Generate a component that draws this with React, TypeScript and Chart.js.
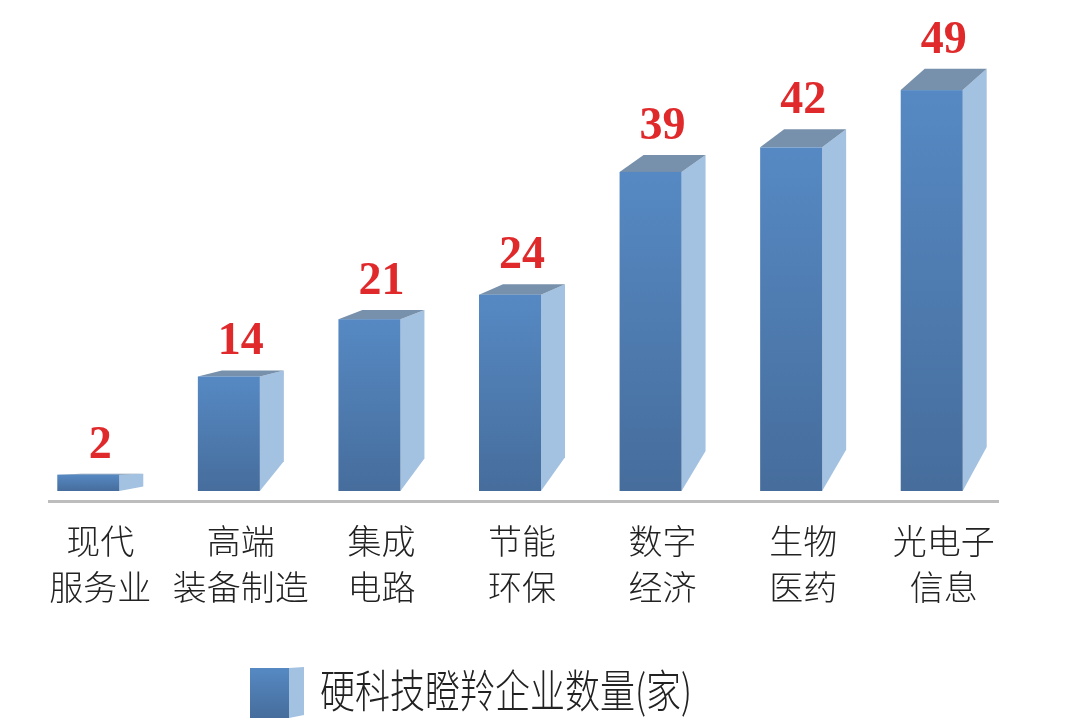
import React, { useEffect, useRef } from 'react';
import { Chart, registerables } from 'chart.js';

Chart.register(...registerables);

const categories: string[][] = [
  ['现代', '服务业'],
  ['高端', '装备制造'],
  ['集成', '电路'],
  ['节能', '环保'],
  ['数字', '经济'],
  ['生物', '医药'],
  ['光电子', '信息'],
];
const counts: number[] = [2, 14, 21, 24, 39, 42, 49];
const seriesName = '硬科技瞪羚企业数量(家)';

const DEPTH = 24;

const bar3d = {
  id: 'bar3d',
  afterDatasetsDraw(chart: any) {
    const ctx: CanvasRenderingContext2D = chart.ctx;
    const meta = chart.getDatasetMeta(0);
    const ds = chart.data.datasets[0];
    const area = chart.chartArea;
    ctx.save();
    // baseline rule
    ctx.fillStyle = '#bdbdbd';
    ctx.fillRect(area.left + 18, area.bottom + 9, area.right - area.left - 33, 3);

    meta.data.forEach((el: any, i: number) => {
      const { x, y, base, width } = el.getProps(['x', 'y', 'base', 'width'], true);
      const h = base - y;
      const left = x - width / 2;
      const fw = width - DEPTH;
      const fr = left + fw;
      const topDy = h * 0.053;
      const rise = Math.min(h * 0.27, 24 + h * 0.05);
      // side face
      ctx.fillStyle = '#a3c1e0';
      ctx.beginPath();
      ctx.moveTo(fr, y);
      ctx.lineTo(fr + DEPTH, y - topDy);
      ctx.lineTo(fr + DEPTH, base - rise);
      ctx.lineTo(fr, base);
      ctx.closePath();
      ctx.fill();
      // top face
      ctx.fillStyle = '#7790ab';
      ctx.beginPath();
      ctx.moveTo(left, y);
      ctx.lineTo(left + DEPTH, y - topDy);
      ctx.lineTo(fr + DEPTH, y - topDy);
      ctx.lineTo(fr, y);
      ctx.closePath();
      ctx.fill();
      // front face
      const g = ctx.createLinearGradient(0, y, 0, base);
      g.addColorStop(0, '#5689c3');
      g.addColorStop(1, '#466d9c');
      ctx.fillStyle = g;
      ctx.fillRect(left, y, fw, h);
      // value label
      ctx.fillStyle = '#e0292b';
      ctx.font = 'bold 46px "Liberation Serif", "DejaVu Serif", serif';
      ctx.textAlign = 'center';
      ctx.textBaseline = 'alphabetic';
      ctx.fillText(String(ds.data[i]), x, y - topDy - 16);
    });

    // legend
    const lx = chart.width / 2 - 290;
    const ly = chart.height - 36;
    const gl = ctx.createLinearGradient(0, ly - 23, 0, ly + 27);
    gl.addColorStop(0, '#5689c3');
    gl.addColorStop(1, '#466d9c');
    ctx.fillStyle = '#a3c1e0';
    ctx.beginPath();
    ctx.moveTo(lx + 39, ly - 23);
    ctx.lineTo(lx + 54, ly - 24);
    ctx.lineTo(lx + 54, ly + 24);
    ctx.lineTo(lx + 39, ly + 27);
    ctx.closePath();
    ctx.fill();
    ctx.fillStyle = gl;
    ctx.fillRect(lx, ly - 23, 39, 50);
    ctx.fillStyle = '#222222';
    ctx.font = '300 35px "Noto Sans CJK SC", sans-serif';
    ctx.textAlign = 'left';
    ctx.textBaseline = 'middle';
    ctx.translate(lx + 70, ly);
    ctx.scale(1, 1.3);
    ctx.fillText(ds.label, 0, 0);
    ctx.restore();
  },
};

export default function App() {
  const ref = useRef<HTMLCanvasElement | null>(null);
  useEffect(() => {
    document.body.style.margin = '0';
    const chart = new Chart(ref.current as HTMLCanvasElement, {
      type: 'bar',
      data: {
        labels: categories,
        datasets: [
          {
            label: seriesName,
            data: counts,
            backgroundColor: 'rgba(0,0,0,0)',
            barThickness: 86,
          },
        ],
      },
      options: {
        responsive: false,
        animation: false,
        devicePixelRatio: 1,
        layout: { padding: { top: 41, bottom: 116, left: 30, right: 66 } },
        plugins: {
          legend: { display: false },
          tooltip: { enabled: false },
        },
        scales: {
          x: {
            grid: { display: false, drawTicks: false },
            border: { display: false },
            ticks: {
              color: '#222222',
              padding: 27,
              font: { family: '"Noto Sans CJK SC", sans-serif', size: 34, weight: '300', lineHeight: 1.35 },
              maxRotation: 0,
              autoSkip: false,
            },
            afterFit: (s: any) => {
              s.height = 120;
            },
          },
          y: {
            display: false,
            min: 0,
            max: 55,
          },
        },
      },
      plugins: [bar3d],
    } as any);
    return () => chart.destroy();
  }, []);
  return (
    <div style={{ position: 'fixed', left: 0, top: 0, width: 1080, height: 727, background: '#ffffff' }}>
      <canvas ref={ref} width={1080} height={727} />
    </div>
  );
}
